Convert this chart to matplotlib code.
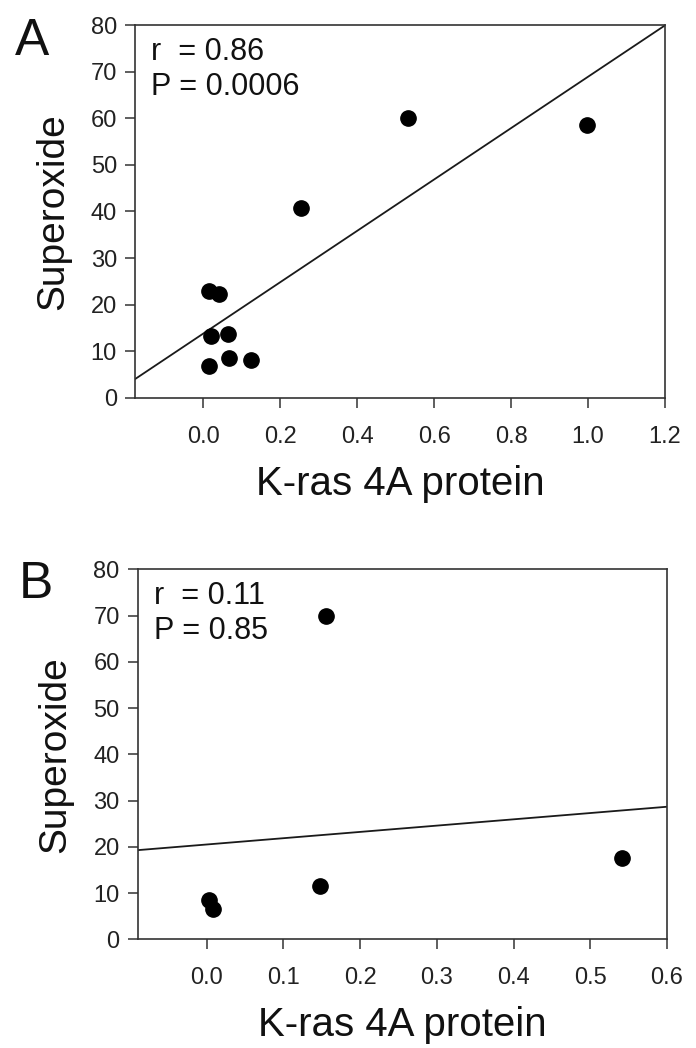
import matplotlib

matplotlib.use("Agg")
import matplotlib.pyplot as plt
import numpy as np

plt.rcParams["font.family"] = ["Liberation Sans", "DejaVu Sans"]

# Panel A: K-ras 4A protein vs superoxide
a_x = [0.014, 0.040, 0.020, 0.064, 0.016, 0.068, 0.124, 0.254, 0.532, 0.998]
a_y = [22.9, 22.4, 13.4, 13.8, 6.9, 8.6, 8.2, 40.8, 60.0, 58.5]
a_fit = (13.8, 55.1)  # intercept, slope
a_stats = ["r  = 0.86", "P = 0.0006"]
a_xticks = [0.0, 0.2, 0.4, 0.6, 0.8, 1.0, 1.2]
a_xlim = (-0.177, 1.2)

# Panel B
b_x = [0.003, 0.008, 0.147, 0.155, 0.541]
b_y = [8.5, 6.5, 11.6, 69.8, 17.5]
b_fit = (20.5, 13.6)
b_stats = ["r  = 0.11", "P = 0.85"]
b_xticks = [0.0, 0.1, 0.2, 0.3, 0.4, 0.5, 0.6]
b_xlim = (-0.09, 0.6)

yticks = [0, 10, 20, 30, 40, 50, 60, 70, 80]

W, H = 696, 1048
fig = plt.figure(figsize=(W / 100, H / 100), dpi=100)
axA = fig.add_axes([135 / W, 1 - 398 / H, 530 / W, 373 / H])
axB = fig.add_axes([137.7 / W, 1 - 939.3 / H, 529.3 / W, 370 / H])


def draw_panel(ax, x, y, fit, stats, xticks, xlim, fmt):
    ax.plot(x, y, "o", color="black", markersize=11, zorder=3)
    xs = np.array(xlim)
    ax.plot(xs, fit[0] + fit[1] * xs, color="#1a1a1a", lw=1.3, zorder=2)
    ax.set_xlim(*xlim)
    ax.set_ylim(0, 80)
    ax.set_xticks(xticks)
    ax.set_xticklabels([fmt.format(v) for v in xticks])
    ax.set_yticks(yticks)
    for s in ax.spines.values():
        s.set_color("#333333")
        s.set_linewidth(1.2)
    ax.tick_params(axis="both", direction="out", length=7, width=1.1,
                   color="#333333", labelsize=17, labelcolor="#222222")
    ax.tick_params(axis="x", pad=13)
    ax.tick_params(axis="y", pad=6)
    ax.set_xlabel("K-ras 4A protein", fontsize=29, color="#111111")
    ax.xaxis.set_label_coords(0.5, -0.18)
    ax.set_ylabel("Superoxide", fontsize=28, color="#111111")
    ax.yaxis.set_label_coords(-0.155, 0.5)
    ax.yaxis.label.set_va("center")
    ax.text(0.03, 0.906, stats[0], transform=ax.transAxes, fontsize=22,
            va="baseline", color="#111111")
    ax.text(0.03, 0.812, stats[1], transform=ax.transAxes, fontsize=22,
            va="baseline", color="#111111")


draw_panel(axA, a_x, a_y, a_fit, a_stats, a_xticks, a_xlim, "{:.1f}")
draw_panel(axB, b_x, b_y, b_fit, b_stats, b_xticks, b_xlim, "{:.1f}")

fig.text(15 / W, 1 - 55 / H, "A", fontsize=37, va="baseline", color="#111111")
fig.text(19 / W, 1 - 598 / H, "B", fontsize=37, va="baseline", color="#111111")

fig.savefig("out.png", dpi=100)
